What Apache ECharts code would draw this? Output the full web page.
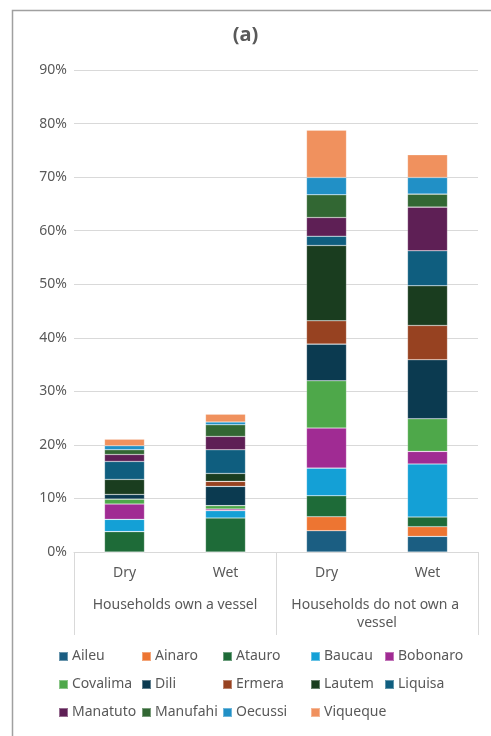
<!DOCTYPE html>
<html>
<head>
<meta charset="utf-8">
<script src="https://cdn.jsdelivr.net/npm/echarts@6/dist/echarts.min.js"></script>
<style>
html,body{margin:0;padding:0;background:#fff;}
#chart{width:491px;height:736px;}
</style>
</head>
<body>
<div id="chart"></div>
<script>
const seasons = ["Dry", "Wet", "Dry", "Wet"];
const groups = ["Households own a vessel", "Households do not own a vessel"];
const districts = ["Aileu","Ainaro","Atauro","Baucau","Bobonaro","Covalima","Dili","Ermera","Lautem","Liquisa","Manatuto","Manufahi","Oecussi","Viqueque"];
// values in percent: [own-Dry, own-Wet, notown-Dry, notown-Wet]
const aileu    = [0,    0,    3.97, 2.91];
const ainaro   = [0,    0,    2.61, 1.81];
const atauro   = [3.8,  6.35, 3.92, 1.81];
const baucau   = [2.3,  1.37, 5.17, 9.9];
const bobonaro = [2.85, 0.31, 7.47, 2.35];
const covalima = [0.93, 0.62, 8.83, 6.1];
const dili     = [0.87, 3.6,  6.85, 11.02];
const ermera   = [0,    0.93, 4.35, 6.4];
const lautem   = [2.8,  1.49, 14.06, 7.41];
const liquisa  = [3.36, 4.42, 1.74, 6.53];
const manatuto = [1.3,  2.49, 3.49, 8.16];
const manufahi = [0.87, 2.18, 4.24, 2.43];
const oecussi  = [0.75, 0.5,  3.23, 3.1];
const viqueque = [1.24, 1.49, 8.83, 4.24];
const yTicks = [0, 90, 10];

const seriesData = [aileu, ainaro, atauro, baucau, bobonaro, covalima, dili, ermera, lautem, liquisa, manatuto, manufahi, oecussi, viqueque];
const colors = ["#1b5e82","#ed7532","#1e6b38","#14a0d6","#a02b93","#4ea84a","#0b3a50","#974221","#1a3d1f","#0f5e7f","#5e1f55","#326733","#2190c6","#f0915e"];

const txt = "#595959";
const font = "Noto Sans";

const legendCols = [
  ["Aileu","Covalima","Manatuto"],
  ["Ainaro","Dili","Manufahi"],
  ["Atauro","Ermera","Oecussi"],
  ["Baucau","Lautem","Viqueque"],
  ["Bobonaro","Liquisa"]
];
const legendLefts = [58, 141, 222, 310, 384];

const chart = echarts.init(document.getElementById('chart'), null, {renderer:'canvas'});
chart.setOption({
  animation:false,
  backgroundColor:'#fff',
  color: colors,
  textStyle:{fontFamily:font},
  title:{
    text:"(a)", left:'center', top:25, padding:0,
    textStyle:{fontSize:20, fontWeight:'bold', color:txt, fontFamily:font}
  },
  graphic:[{
    type:'rect', left:10, top:8, silent:true,
    shape:{width:600, height:800},
    style:{fill:'none', stroke:'#a0a0a0', lineWidth:1.5}
  }],
  legend: legendCols.map((col,i)=>({
    data: col, orient:'vertical', left: legendLefts[i], top: 648,
    itemWidth:9, itemHeight:9, itemGap:11, icon:'rect', padding:0,
    textStyle:{fontSize:14, color:txt, fontFamily:font, lineHeight:17, padding:[0,0,0,-1]}
  })),
  grid:{left:74, right:13, top:70, bottom:184, containLabel:false},
  xAxis:[{
    type:'category', data: seasons, position:'bottom',
    axisLine:{show:true, lineStyle:{color:'#d9d9d9', width:1}},
    axisTick:{show:false},
    axisLabel:{margin:14, fontSize:14, color:txt, fontFamily:font}
  },{
    type:'category', data: groups, position:'bottom',
    axisLine:{show:false},
    axisTick:{show:true, length:83, lineStyle:{color:'#d9d9d9', width:1}},
    axisLabel:{margin:44, fontSize:14, color:txt, fontFamily:font, width:190, overflow:'break', lineHeight:18, interval:0}
  }],
  yAxis:{
    type:'value', min:yTicks[0], max:yTicks[1], interval:yTicks[2],
    axisLine:{show:false}, axisTick:{show:false},
    splitLine:{lineStyle:{color:'#d9d9d9', width:1}},
    axisLabel:{formatter:'{value}%', fontSize:14, color:txt, fontFamily:font, margin:7}
  },
  series: districts.map((name,i)=>({
    name, type:'bar', stack:'total', xAxisIndex:0, barWidth:40,
    data: seriesData[i],
    itemStyle:{color:colors[i], borderColor:'rgba(255,255,255,0.35)', borderWidth:0.6}
  }))
});
</script>
</body>
</html>
